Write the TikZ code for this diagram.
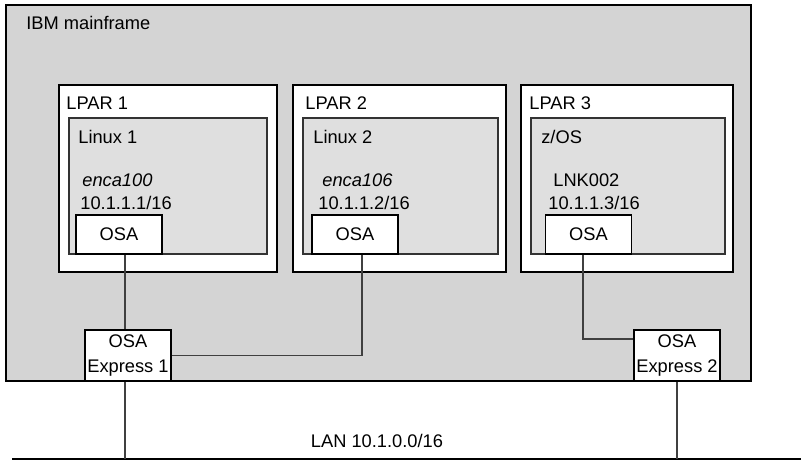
\documentclass[tikz,border=0pt]{standalone}
\usepackage{fontspec}
\setmainfont{Liberation Sans}
\definecolor{mfgray}{gray}{0.83}
\definecolor{osgray}{gray}{0.875}
\begin{document}
\begin{tikzpicture}[every node/.style={font=\fontsize{10.4}{12.5}\selectfont, inner sep=0pt},
  frame/.style={draw, line width=1.1pt},
  osbox/.style={draw=black!80, fill=osgray, line width=0.6pt},
  osabox/.style={frame, fill=white, minimum width=1.72cm, minimum height=0.78cm},
  expbox/.style={frame, fill=white, minimum width=1.72cm, minimum height=1.02cm,
    align=center, font=\fontsize{10.4}{14.2}\selectfont},
  link/.style={draw=black!75, line width=0.6pt}]
  \useasboundingbox (0,0) rectangle (16.02,9.22);
  \draw[frame, fill=mfgray] (0.12,1.60) rectangle (15.02,9.12);
  \node[anchor=west] (mf) at (0.52,8.76) {IBM mainframe};
  % LPAR 1
  \draw[frame, fill=white] (1.18,3.78) rectangle (5.54,7.52);
  \draw[osbox] (1.38,4.14) rectangle (5.34,6.86);
  \node[anchor=west] (lpar1) at (1.32,7.16) {LPAR 1};
  \node[anchor=west] (os1) at (1.56,6.48) {Linux 1};
  \node[anchor=west] (host1) at (1.64,5.62) {\itshape enca100};
  \node[anchor=west] (ip1) at (1.60,5.16) {10.1.1.1/16};
  \node[osabox] (osa1) at (2.38,4.53) {OSA};
  % LPAR 2
  \draw[frame, fill=white] (5.86,3.78) rectangle (10.12,7.52);
  \draw[osbox] (6.06,4.14) rectangle (9.96,6.86);
  \node[anchor=west] (lpar2) at (6.10,7.16) {LPAR 2};
  \node[anchor=west] (os2) at (6.26,6.48) {Linux 2};
  \node[anchor=west] (host2) at (6.44,5.62) {\itshape enca106};
  \node[anchor=west] (ip2) at (6.36,5.16) {10.1.1.2/16};
  \node[osabox] (osa2) at (7.10,4.53) {OSA};
  % LPAR 3
  \draw[frame, fill=white] (10.42,3.78) rectangle (14.66,7.52);
  \draw[osbox] (10.62,4.14) rectangle (14.50,6.86);
  \node[anchor=west] (lpar3) at (10.58,7.16) {LPAR 3};
  \node[anchor=west] (os3) at (10.82,6.48) {z/OS};
  \node[anchor=west] (host3) at (11.06,5.62) {LNK002};
  \node[anchor=west] (ip3) at (10.96,5.16) {10.1.1.3/16};
  \node[osabox] (osa3) at (11.77,4.53) {OSA};
  % OSA Express adapters
  \node[expbox] (exp1) at (2.56,2.11) {OSA\\Express 1};
  \node[expbox] (exp2) at (13.54,2.11) {OSA\\Express 2};
  \draw[link] ([xshift=0.12cm]osa1.south) -- ([xshift=0.12cm]osa1.south |- exp1.north);
  \draw[link] ([xshift=0.14cm]osa2.south) |- (exp1.east);
  \draw[link] ([xshift=-0.11cm]osa3.south) |- ([yshift=0.33cm]exp2.west);
  % LAN
  \coordinate (lanl) at (0.24,0.04);
  \coordinate (lanr) at (16.02,0.04);
  \draw[line width=1.1pt] (lanl) -- (lanr);
  \node (lan) at (7.54,0.40) {LAN 10.1.0.0/16};
  \draw[link] ([xshift=-0.06cm]exp1.south) -- ([xshift=-0.06cm]exp1.south |- lanl);
  \draw[link] (exp2.south) -- (exp2.south |- lanl);
\end{tikzpicture}
\end{document}
